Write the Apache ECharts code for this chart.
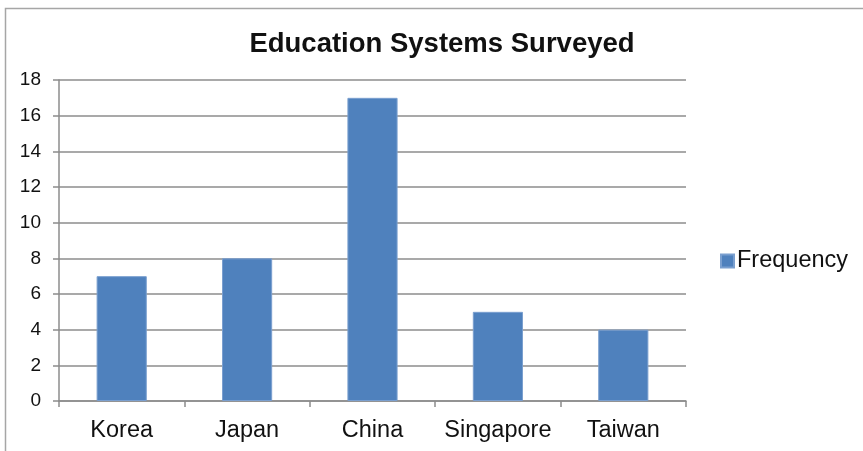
<!DOCTYPE html>
<html><head><meta charset="utf-8">
<script src="https://cdn.jsdelivr.net/npm/echarts@6/dist/echarts.min.js"></script>
<style>html,body{margin:0;padding:0;background:#fff}#c{width:863px;height:451px}</style>
</head><body><div id="c"></div>
<script>
const categories = ["Korea", "Japan", "China", "Singapore", "Taiwan"];
const frequency = [7, 8, 17, 5, 4];
const seriesName = "Frequency";
const titleText = "Education Systems Surveyed";

const chart = echarts.init(document.getElementById('c'));
const font = "'Liberation Sans', Arial, sans-serif";
chart.setOption({
  animation: false,
  backgroundColor: '#fff',
  title: { text: titleText, left: 437, top: 25, textAlign: 'center',
    textStyle: { fontFamily: font, fontSize: 27.5, fontWeight: 'bold', color: '#111' } },
  graphic: [{ type: 'rect', shape: { x: 5.5, y: 8.5, width: 1000, height: 1000 },
    style: { fill: 'none', stroke: '#a6a6a6', lineWidth: 1.5 }, silent: true }],
  legend: { data: [seriesName], left: 715, top: 244, itemWidth: 13, itemHeight: 13, itemGap: 5,
    icon: 'rect', textStyle: { fontFamily: font, fontSize: 23.5, color: '#111', padding: [0,0,0,-2] } },
  grid: { left: 59, right: 177, top: 80, bottom: 50, containLabel: false },
  xAxis: { type: 'category', data: categories,
    axisLine: { lineStyle: { color: '#8c8c8c', width: 1.5 } },
    axisTick: { show: true, interval: 0, length: 6, alignWithLabel: false, lineStyle: { color: '#8c8c8c', width: 1.5 } },
    axisLabel: { interval: 0, fontFamily: font, fontSize: 23.5, color: '#111', margin: 18 } },
  yAxis: { type: 'value', min: 0, max: 18, interval: 2,
    axisLine: { show: true, lineStyle: { color: '#8c8c8c', width: 1.5 } },
    axisTick: { show: true, length: 6, lineStyle: { color: '#8c8c8c', width: 1.5 } },
    splitLine: { lineStyle: { color: '#8c8c8c', width: 1.5 } },
    axisLabel: { fontFamily: font, fontSize: 19, color: '#111', margin: 18 } },
  series: [{ name: seriesName, type: 'bar', data: frequency, barWidth: '40%',
    itemStyle: { color: '#4F81BD', borderColor: '#7a9fcf', borderWidth: 1 } }]
});
</script></body></html>
